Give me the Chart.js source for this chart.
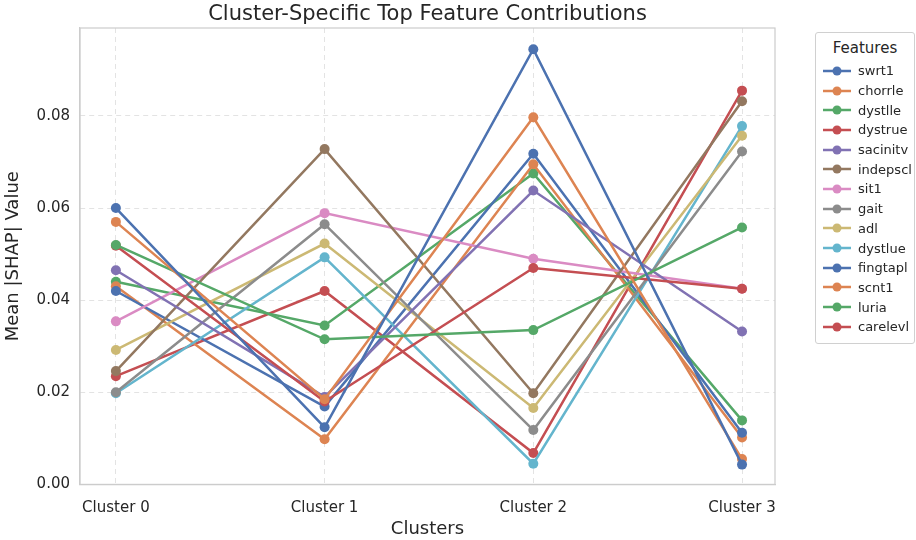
<!DOCTYPE html>
<html>
<head>
<meta charset="utf-8">
<script src="https://cdn.jsdelivr.net/npm/chart.js@4.4.1/dist/chart.umd.min.js"></script>
<style>
  body { margin: 0; background: #fff; font-family: "DejaVu Sans", sans-serif; }
  #wrap { position: relative; width: 916px; height: 540px; }
  #legend {
    position: absolute; left: 815px; top: 32px; width: 100px;
    border: 1px solid #d0d0d0; border-radius: 3px; background: #fff;
    padding: 6px 0 6px 0; box-sizing: border-box;
  }
  #legend .ttl { text-align: center; font-size: 15px; color: #262626; margin-bottom: 4px; }
  #legend .row { display: flex; align-items: center; height: 19.7px; font-size: 13px; color: #262626; }
  #legend .row canvas { margin: 0 6px 0 6px; }
</style>
</head>
<body>
<div id="wrap">
  <canvas id="chart" width="916" height="540"></canvas>
  <div id="legend"><div class="ttl">Features</div></div>
</div>
<script>
const chartTitle = "Cluster-Specific Top Feature Contributions";
const clusters = ["Cluster 0", "Cluster 1", "Cluster 2", "Cluster 3"];
const yTicks = [0, 0.02, 0.04, 0.06, 0.08];

const features = ["swrt1", "chorrle", "dystlle", "dystrue", "sacinitv", "indepscl", "sit1",
  "gait", "adl", "dystlue", "fingtapl", "scnt1", "luria", "carelevl"];

const swrt1    = [0.0600, 0.0124, 0.0945, 0.0043];
const chorrle  = [0.0570, 0.0185, 0.0797, 0.0055];
const dystlle  = [0.0520, 0.0315, 0.0335, 0.0558];
const dystrue  = [0.0518, 0.0180, 0.0470, 0.0425];
const sacinitv = [0.0465, 0.0190, 0.0638, 0.0332];
const indepscl = [0.0246, 0.0728, 0.0198, 0.0832];
const sit1     = [0.0354, 0.0589, 0.0490, 0.0425];
const gait     = [0.0200, 0.0565, 0.0118, 0.0723];
const adl      = [0.0292, 0.0523, 0.0166, 0.0757];
const dystlue  = [0.0198, 0.0493, 0.0045, 0.0778];
const fingtapl = [0.0420, 0.0169, 0.0718, 0.0112];
const scnt1    = [0.0430, 0.0098, 0.0695, 0.0102];
const luria    = [0.0440, 0.0345, 0.0675, 0.0139];
const carelevl = [0.0235, 0.0420, 0.0068, 0.0855];

const series = [swrt1, chorrle, dystlle, dystrue, sacinitv, indepscl, sit1,
  gait, adl, dystlue, fingtapl, scnt1, luria, carelevl];

// seaborn "deep" palette, cycles after 10
const palette = ["#4C72B0", "#DD8452", "#55A868", "#C44E52", "#8172B3",
  "#937860", "#DA8BC3", "#8C8C8C", "#CCB974", "#64B5CD"];

const datasets = features.map((name, i) => ({
  label: name,
  data: series[i].map((v, j) => ({ x: j, y: v })),
  borderColor: palette[i % 10],
  backgroundColor: palette[i % 10],
  borderWidth: 2.5,
  pointRadius: 5,
  pointHoverRadius: 5,
  pointBorderWidth: 0,
  tension: 0,
}));

new Chart(document.getElementById("chart"), {
  type: "line",
  data: { datasets },
  options: {
    responsive: false,
    animation: false,
    layout: { padding: { left: 0, right: 141, top: 28, bottom: 0 } },
    plugins: {
      legend: { display: false },
      tooltip: { enabled: false },
    },
    scales: {
      x: {
        type: "linear",
        min: -0.172,
        max: 3.158,
        afterBuildTicks: s => { s.ticks = clusters.map((c, i) => ({ value: i })); },
        ticks: {
          callback: v => clusters[v],
          color: "#262626",
          padding: 15,
          font: { family: "DejaVu Sans", size: 15 },
        },
        grid: { color: "#e3e3e3", drawTicks: false },
        border: { color: "#cccccc", width: 1.2, dash: [5, 4] },
        title: {
          display: true, text: "Clusters", color: "#262626",
          font: { family: "DejaVu Sans", size: 18 }, padding: { top: -14, bottom: 0 },
        },
      },
      y: {
        min: 0,
        max: 0.0991,
        afterBuildTicks: s => { s.ticks = yTicks.map(v => ({ value: v })); },
        ticks: {
          callback: v => v.toFixed(2),
          color: "#262626",
          padding: 10,
          font: { family: "DejaVu Sans", size: 15 },
        },
        grid: { color: "#e3e3e3", drawTicks: false },
        border: { color: "#cccccc", width: 1.2, dash: [5, 4] },
        title: {
          display: true, text: "Mean |SHAP| Value", color: "#262626",
          font: { family: "DejaVu Sans", size: 18 }, padding: { top: 3, bottom: 2 },
        },
      },
    },
  },
  plugins: [{
    id: "frameAndTitle",
    afterDraw(chart) {
      const { ctx, chartArea: a } = chart;
      ctx.save();
      ctx.strokeStyle = "#cccccc";
      ctx.lineWidth = 1.2;
      ctx.strokeRect(a.left, a.top, a.right - a.left, a.bottom - a.top);
      // title centred over the axes, like matplotlib
      ctx.fillStyle = "#262626";
      ctx.font = "21px 'DejaVu Sans'";
      ctx.textAlign = "center";
      ctx.textBaseline = "middle";
      ctx.fillText(chartTitle, (a.left + a.right) / 2, 15);
      ctx.restore();
    },
  }],
});

// legend box like matplotlib's
const legend = document.getElementById("legend");
datasets.forEach(ds => {
  const row = document.createElement("div");
  row.className = "row";
  const c = document.createElement("canvas");
  c.width = 30; c.height = 12;
  const g = c.getContext("2d");
  g.strokeStyle = ds.borderColor; g.lineWidth = 2.5;
  g.beginPath(); g.moveTo(1, 6); g.lineTo(29, 6); g.stroke();
  g.fillStyle = ds.borderColor;
  g.beginPath(); g.arc(15, 6, 4.5, 0, Math.PI * 2); g.fill();
  row.appendChild(c);
  const t = document.createElement("span");
  t.textContent = ds.label;
  row.appendChild(t);
  legend.appendChild(row);
});
</script>
</body>
</html>
